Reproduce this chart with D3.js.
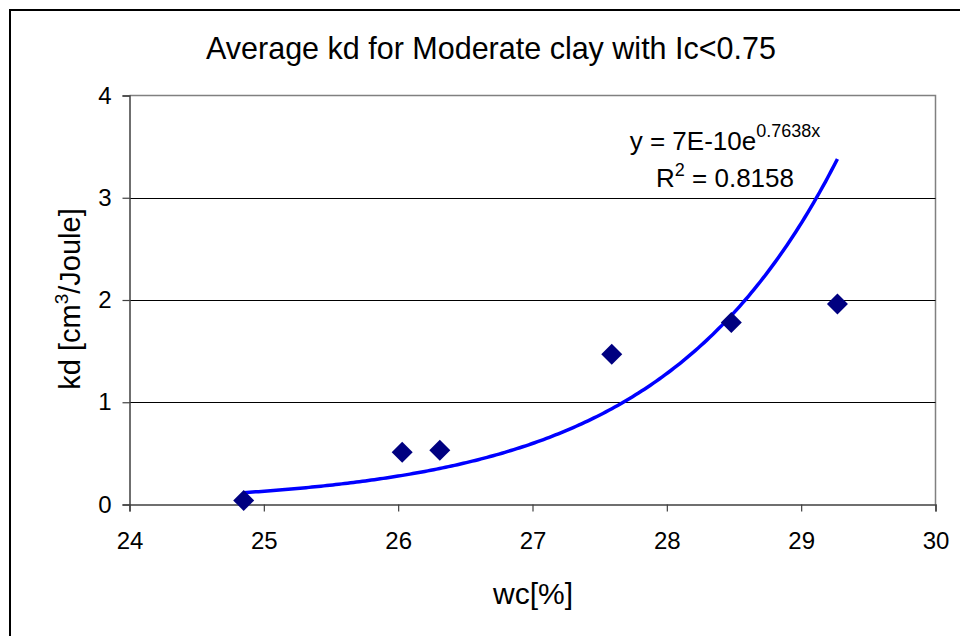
<!DOCTYPE html>
<html>
<head>
<meta charset="utf-8">
<script src="https://cdn.jsdelivr.net/npm/d3@7"></script>
<style>
  html, body { margin: 0; padding: 0; background: #fff; }
  svg { display: block; font-family: "Liberation Sans", Arial, sans-serif; }
</style>
</head>
<body>
<svg id="chart" width="960" height="636"></svg>
<script>
// Water content (%) and average kd (cm³/Joule) for moderate clay, Ic < 0.75
const wc = [24.85, 26.03, 26.31, 27.59, 28.48, 29.27];
const kd = [0.04, 0.51, 0.53, 1.47, 1.78, 1.96];

// Exponential trendline y = a·e^(b·x)
const trendA = 6.6e-10;
const trendB = 0.7638;
const trendR2 = 0.8158;

const xTicks = [24, 25, 26, 27, 28, 29, 30];
const yTicks = [0, 1, 2, 3, 4];

const titleText = "Average kd for Moderate clay with Ic<0.75";

const svg = d3.select("#chart");
const W = 960, H = 636;
const plot = { left: 129.5, right: 935.5, top: 95.5, bottom: 504.5 };

const x = d3.scaleLinear().domain([24, 30]).range([plot.left, plot.right]);
const y = d3.scaleLinear().domain([0, 4]).range([plot.bottom, plot.top]);

// outer chart frame (runs off the right and bottom edges)
svg.append("rect")
  .attr("x", 10).attr("y", 10)
  .attr("width", W).attr("height", H)
  .attr("fill", "#fff").attr("stroke", "#000").attr("stroke-width", 2);

// title
svg.append("text")
  .attr("x", 491).attr("y", 59)
  .attr("text-anchor", "middle")
  .attr("font-size", 30.5)
  .attr("fill", "#000")
  .text(titleText);

// plot area border (top and right edges)
svg.append("path")
  .attr("d", `M${plot.left},${plot.top}H${plot.right}V${plot.bottom}`)
  .attr("fill", "none").attr("stroke", "#808080").attr("stroke-width", 1.5);

// horizontal gridlines
svg.append("g")
  .selectAll("line")
  .data(yTicks.filter(t => t > 0 && t < 4))
  .join("line")
  .attr("x1", plot.left).attr("x2", plot.right)
  .attr("y1", d => Math.round(y(d)) + 0.5).attr("y2", d => Math.round(y(d)) + 0.5)
  .attr("stroke", "#000").attr("stroke-width", 1);

// y axis
const yAxis = svg.append("g")
  .attr("transform", `translate(${plot.left},0)`)
  .call(d3.axisLeft(y).tickValues(yTicks).tickFormat(d3.format("d")).tickSize(7).tickPadding(11));
yAxis.select(".domain").attr("stroke", "#404040").attr("stroke-width", 1.5);
yAxis.selectAll(".tick line").attr("stroke", "#404040").attr("stroke-width", 1.2);
yAxis.selectAll(".tick text")
  .attr("font-size", 24).attr("font-family", "Liberation Sans, Arial, sans-serif")
  .attr("fill", "#000");

// x axis
const xAxis = svg.append("g")
  .attr("transform", `translate(0,${plot.bottom})`)
  .call(d3.axisBottom(x).tickValues(xTicks).tickFormat(d3.format("d")).tickSize(7).tickPadding(20));
xAxis.select(".domain").attr("stroke", "#404040").attr("stroke-width", 1.5);
xAxis.selectAll(".tick line").attr("stroke", "#404040").attr("stroke-width", 1.2);
xAxis.selectAll(".tick text")
  .attr("font-size", 24).attr("font-family", "Liberation Sans, Arial, sans-serif")
  .attr("fill", "#000");

// axis titles
svg.append("text")
  .attr("x", 533).attr("y", 604)
  .attr("text-anchor", "middle")
  .attr("font-size", 30)
  .text("wc[%]");

const yTitle = svg.append("text")
  .attr("transform", "translate(80,299) rotate(-90)")
  .attr("text-anchor", "middle")
  .attr("font-size", 29);
yTitle.append("tspan").text("kd [cm");
yTitle.append("tspan").attr("font-size", 19).attr("dy", -12).text("3");
yTitle.append("tspan").attr("dy", 12).text("/Joule]");

// trendline over the data range
const x0 = d3.min(wc), x1 = d3.max(wc);
const trendPts = d3.range(0, 201).map(i => {
  const xv = x0 + (x1 - x0) * i / 200;
  return [xv, trendA * Math.exp(trendB * xv)];
});
svg.append("path")
  .datum(trendPts)
  .attr("d", d3.line().x(d => x(d[0])).y(d => y(d[1])))
  .attr("fill", "none")
  .attr("stroke", "#0000ff")
  .attr("stroke-width", 3.5)
  .attr("stroke-linejoin", "round");

// data markers (diamonds)
const diamond = d3.symbol().type(d3.symbolSquare).size(220);
svg.append("g")
  .selectAll("path")
  .data(wc.map((v, i) => [v, kd[i]]))
  .join("path")
  .attr("transform", d => `translate(${x(d[0])},${y(d[1])}) rotate(45)`)
  .attr("d", diamond)
  .attr("fill", "#000080");

// trendline equation and R²
const coefText = d3.format(".0e")(trendA).toUpperCase();
const eq = svg.append("text")
  .attr("x", 725).attr("y", 150)
  .attr("text-anchor", "middle")
  .attr("font-size", 26);
eq.append("tspan").text(`y = ${coefText}e`);
eq.append("tspan").attr("font-size", 18).attr("dy", -13).text(`${trendB}x`);

const r2 = svg.append("text")
  .attr("x", 725).attr("y", 187)
  .attr("text-anchor", "middle")
  .attr("font-size", 26);
r2.append("tspan").text("R");
r2.append("tspan").attr("font-size", 18).attr("dy", -11).text("2");
r2.append("tspan").attr("dy", 11).text(` = ${trendR2}`);
</script>
</body>
</html>
